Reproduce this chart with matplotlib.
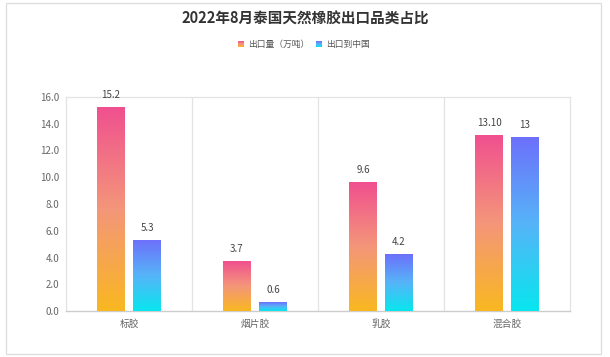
import numpy as np
from matplotlib import pyplot as plt
from matplotlib.colors import LinearSegmentedColormap
from matplotlib.patches import Rectangle

plt.rcParams['font.family'] = ['Noto Sans CJK SC', 'DejaVu Sans']

title = "2022年8月泰国天然橡胶出口品类占比"
categories = ["标胶", "烟片胶", "乳胶", "混合胶"]
series_names = ["出口量（万吨）", "出口到中国"]
export_total = [15.2, 3.7, 9.6, 13.1]
export_china = [5.3, 0.6, 4.2, 13.0]
total_labels = ["15.2", "3.7", "9.6", "13.10"]
china_labels = ["5.3", "0.6", "4.2", "13"]
yticks = [0, 2, 4, 6, 8, 10, 12, 14, 16]

# gradient colours (bottom -> top)
grad_total = ["#f9b821", "#f4967a", "#f0508f"]
grad_china = ["#08e6ee", "#56b4f8", "#6d70fb"]

fig = plt.figure(figsize=(6.1, 3.57), dpi=100)
ax = fig.add_axes([66/610, 1 - 311/357, 504/610, 214/357])

x = np.arange(len(categories))
w = 0.222
off = 0.143
grad = np.linspace(0, 1, 256).reshape(-1, 1)

def gradient_bars(xpos, vals, labels, cols):
    cmap = LinearSegmentedColormap.from_list("g", cols)
    bars = ax.bar(xpos, vals, w, color="none", zorder=3)
    for b, lab in zip(bars, labels):
        x0 = b.get_x()
        h = b.get_height()
        ax.imshow(grad, cmap=cmap, origin="lower", aspect="auto",
                  extent=[x0, x0 + b.get_width(), 0, h], zorder=3)
        ax.annotate(lab, (x0 + b.get_width() / 2, h), xytext=(0, 9),
                    textcoords="offset points", ha="center", va="center",
                    fontsize=7, color="#444444")

gradient_bars(x - off, export_total, total_labels, grad_total)
gradient_bars(x + off, export_china, china_labels, grad_china)

ax.set_xlim(-0.5, len(categories) - 0.5)
ax.set_ylim(0, 16)
ax.set_yticks(yticks)
ax.set_yticklabels([f"{t:.1f}" for t in yticks])
ax.set_xticks(x)
ax.set_xticklabels(categories)
ax.tick_params(axis="both", length=0, labelsize=7, colors="#666666")
ax.tick_params(axis="x", pad=6, labelsize=7)
ax.tick_params(axis="y", pad=5)

for sep in np.arange(0.5, len(categories) - 0.5):
    ax.axvline(sep, color="#e3e3e3", lw=0.9, zorder=1)
for s in ["top", "right", "left"]:
    ax.spines[s].set_color("#e3e3e3")
    ax.spines[s].set_linewidth(0.9)
ax.spines["bottom"].set_color("#cccccc")
ax.spines["bottom"].set_linewidth(1.0)

fig.text(305/610, 1 - 19/357, title, ha="center", va="center",
         fontsize=10.5, fontweight="bold", color="#333333")

# legend with gradient squares
leg_x = [238, 316]
for lx, name, cols in zip(leg_x, series_names, [grad_total, grad_china]):
    lax = fig.add_axes([lx/610, 1 - 47/357, 6/610, 6/357])
    lax.imshow(grad, cmap=LinearSegmentedColormap.from_list("g", cols),
               origin="lower", aspect="auto")
    lax.axis("off")
    fig.text((lx + 10)/610, 1 - 44/357, name, ha="left", va="center",
             fontsize=6.3, color="#555555")

# outer frame
fig.patches.append(Rectangle((6/610, 1 - 354/357), 595/610, 351/357,
                             transform=fig.transFigure, fill=False,
                             edgecolor="#dddddd", lw=0.9))

fig.savefig("out.png", dpi=100)
